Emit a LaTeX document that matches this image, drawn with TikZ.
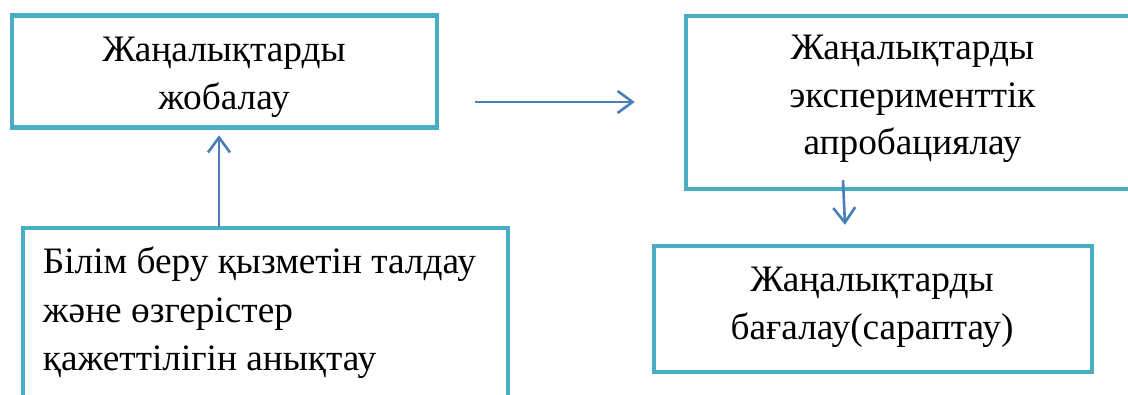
\documentclass[tikz,border=0pt]{standalone}
\usepackage{fontspec}
\setmainfont{Liberation Serif}
\usetikzlibrary{arrows.meta,calc}
\definecolor{boxteal}{HTML}{4BACC6}
\definecolor{arrblue}{HTML}{4A7EBB}
\tikzset{
  box/.style={draw=boxteal, line width=4.5pt, rectangle, fill=white, inner sep=0pt},
  txt/.style={inner sep=0pt, align=center},
  arr/.style={draw=arrblue, line width=2.6pt,
    -{Straight Barb[length=15pt,width=22pt,line width=2.6pt]}}
}
\newcommand{\fsA}{\fontsize{37.3}{48}\selectfont}
\newcommand{\fsB}{\fontsize{37.3}{47.5}\selectfont}
\newcommand{\fsC}{\fontsize{37.3}{48.5}\selectfont}
\begin{document}
\begin{tikzpicture}[x=1pt,y=1pt]
\useasboundingbox (0,0) rectangle (1128,-394);
\node[box, minimum width=425pt, minimum height=112pt] (b1) at (224.5,-71.5) {};
\node[box, minimum width=454pt, minimum height=173pt] (b2) at (913,-102.5) {};
\node[box, minimum width=485pt, minimum height=169pt] (b3) at (265.5,-312.5) {};
\node[box, minimum width=438pt, minimum height=126pt] (b4) at (873,-309) {};
\node[txt, font=\fsA] (t1) at ($(b1.center)+(-0.5,-6)$) {Жаңалықтарды\\жобалау};
\node[txt, font=\fsB] (t2) at ($(b2.center)+(-0.5,3.5)$) {Жаңалықтарды\\эксперименттік\\апробациялау};
\node[txt, font=\fsC, align=left, anchor=west] (t3) at ($(b3.west)+(22,-0.5)$) {Білім беру қызметін талдау\\және өзгерістер\\қажеттілігін анықтау};
\node[txt, font=\fsA] (t4) at ($(b4.center)+(-1,1.5)$) {Жаңалықтарды\\бағалау(сараптау)};
\draw[arr] ($(b1.east)+(36,-30.5)$) -- ($(b2.west)+(-49,0.5)$);
\draw[arr] ($(b3.north)+(-46.5,-1)$) -- ($(b1.south)+(-5.5,-5.5)$);
\draw[arr] ($(b2.south)+(-70,11)$) -- ($(b4.north)+(-28,19)$);
\end{tikzpicture}
\end{document}
